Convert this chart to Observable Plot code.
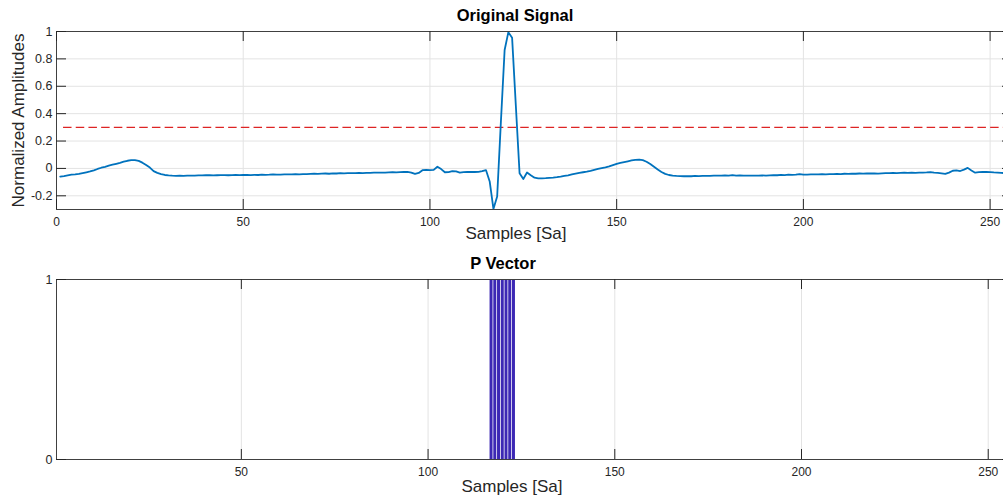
<!DOCTYPE html>
<html><head><meta charset="utf-8">
<script src="https://cdn.jsdelivr.net/npm/d3@7"></script>
<script src="https://cdn.jsdelivr.net/npm/@observablehq/plot@0.6"></script>
<style>
html,body{margin:0;padding:0;background:#fff;overflow:hidden;}
#wrap{width:1003px;height:502px;overflow:hidden;position:relative;background:#fff;}
#wrap svg{display:block;max-width:none;}
</style></head><body><div id="wrap"></div>
<script>
// ---- data ----
const signal = [
-0.060,-0.056,-0.051,-0.046,-0.044,-0.040,-0.034,-0.028,-0.022,-0.014,
-0.004,0.005,0.012,0.020,0.027,0.034,0.041,0.049,0.056,0.060,
0.060,0.055,0.042,0.025,0.006,-0.020,-0.032,-0.041,-0.048,-0.051,
-0.053,-0.054,-0.053,-0.054,-0.052,-0.052,-0.053,-0.051,-0.051,-0.050,
-0.050,-0.051,-0.050,-0.049,-0.049,-0.050,-0.049,-0.048,-0.049,-0.048,
-0.048,-0.049,-0.047,-0.048,-0.046,-0.047,-0.046,-0.043,-0.046,-0.045,
-0.044,-0.043,-0.044,-0.042,-0.043,-0.041,-0.042,-0.040,-0.039,-0.040,
-0.038,-0.037,-0.039,-0.036,-0.037,-0.035,-0.036,-0.035,-0.034,-0.035,
-0.033,-0.034,-0.032,-0.033,-0.031,-0.030,-0.031,-0.030,-0.029,-0.028,
-0.029,-0.027,-0.026,-0.025,-0.030,-0.040,-0.033,-0.013,-0.011,-0.012,
-0.011,0.012,-0.005,-0.028,-0.027,-0.020,-0.022,-0.031,-0.027,-0.026,
-0.025,-0.026,-0.025,-0.020,-0.012,-0.095,-0.296,-0.205,0.340,0.865,
0.995,0.955,0.460,-0.035,-0.077,-0.030,-0.050,-0.068,-0.073,-0.072,
-0.071,-0.069,-0.067,-0.064,-0.060,-0.055,-0.050,-0.044,-0.038,-0.032,
-0.028,-0.024,-0.018,-0.011,-0.004,0.002,0.008,0.015,0.024,0.033,
0.040,0.046,0.052,0.058,0.063,0.065,0.060,0.049,0.032,0.012,
-0.008,-0.026,-0.040,-0.048,-0.053,-0.055,-0.056,-0.057,-0.056,-0.057,
-0.055,-0.056,-0.055,-0.054,-0.055,-0.053,-0.052,-0.053,-0.051,-0.052,
-0.049,-0.053,-0.051,-0.052,-0.053,-0.052,-0.053,-0.052,-0.051,-0.053,
-0.051,-0.049,-0.050,-0.047,-0.049,-0.045,-0.047,-0.046,-0.041,-0.045,
-0.046,-0.044,-0.043,-0.044,-0.042,-0.043,-0.041,-0.042,-0.040,-0.041,
-0.039,-0.040,-0.038,-0.039,-0.037,-0.038,-0.036,-0.037,-0.036,-0.038,
-0.036,-0.035,-0.034,-0.033,-0.034,-0.032,-0.031,-0.032,-0.031,-0.032,
-0.031,-0.030,-0.029,-0.027,-0.031,-0.033,-0.036,-0.040,-0.031,-0.017,
-0.015,-0.019,-0.009,0.004,-0.015,-0.031,-0.027,-0.025,-0.026,-0.027,
-0.029,-0.030,-0.032,-0.035,-0.035,-0.036
];
const threshold = 0.3;
const pIndices = [117,118,119,120,121,122,123];
const xTicksTop = [0,50,100,150,200,250];
const yTicksTop = [-0.2,0,0.2,0.4,0.6,0.8,1];
const xTicksBottom = [50,100,150,200,250];
const yTicksBottom = [0,1];
const titles = ["Original Signal","P Vector"];
const xLabel = "Samples [Sa]";
const yLabel = "Normalized Amplitudes";

// ---- derived tables ----
const samples = signal.map((v,i)=>({sample:i+1, value:v}));
const pData = pIndices.map(s=>({sample:s, value:1}));

const W = 1012, H = 251;
const font = "'Liberation Sans', Arial, Helvetica, sans-serif";
const gridColor = "#e3e3e3", axisColor = "#262626", frameColor = "#404040";
const styleObj = {fontFamily: font, background: "white", maxWidth: "none"};

const topPlot = Plot.plot({
  width: W, height: H, marginTop: 31, marginBottom: 42, marginLeft: 56, marginRight: 0,
  x: {domain: [0, 256], axis: null},
  y: {domain: [-0.3, 1], axis: null},
  style: styleObj,
  marks: [
    Plot.ruleX(xTicksTop, {stroke: gridColor}),
    Plot.ruleY(yTicksTop, {stroke: gridColor}),
    Plot.ruleY([threshold], {x1: samples[0].sample, x2: samples[samples.length-1].sample,
      stroke: "#dd2424", strokeWidth: 1.1, strokeDasharray: "8.5,4.2", strokeDashoffset: 9.4}),
    Plot.line(samples, {x: "sample", y: "value", stroke: "#0072BD", strokeWidth: 1.8}),
    Plot.frame({stroke: frameColor}),
    Plot.ruleX(xTicksTop, {insetTop: 168, stroke: axisColor}),
    Plot.ruleX(xTicksTop, {insetBottom: 168, stroke: axisColor}),
    Plot.ruleY(yTicksTop, {insetRight: 946, stroke: axisColor}),
    Plot.ruleY(yTicksTop, {insetLeft: 946, stroke: axisColor}),
    Plot.text(xTicksTop, {x: d => d, text: d => String(d), frameAnchor: "bottom", lineAnchor: "top",
      dy: 8, fontSize: 12, fill: axisColor}),
    Plot.text(yTicksTop, {y: d => d, text: d => String(d), frameAnchor: "left", textAnchor: "end",
      dx: -4, fontSize: 12.5, fill: axisColor})
  ]
});

const bottomPlot = Plot.plot({
  width: W, height: H, marginTop: 28, marginBottom: 43, marginLeft: 56, marginRight: 0,
  x: {domain: [0.5, 256.5], axis: null},
  y: {domain: [0, 1], axis: null},
  style: styleObj,
  marks: [
    Plot.ruleX(xTicksBottom, {stroke: gridColor}),
    Plot.rect(pData, {x1: d => d.sample - 0.4, x2: d => d.sample + 0.4, y1: 0, y2: "value", fill: "#3c28b4"}),
    Plot.frame({stroke: frameColor}),
    Plot.ruleX(xTicksBottom, {insetTop: 170, stroke: axisColor}),
    Plot.ruleX(xTicksBottom, {insetBottom: 170, stroke: axisColor}),
    Plot.ruleY(yTicksBottom, {insetRight: 946, stroke: axisColor}),
    Plot.ruleY(yTicksBottom, {insetLeft: 946, stroke: axisColor}),
    Plot.text(xTicksBottom, {x: d => d, text: d => String(d), frameAnchor: "bottom", lineAnchor: "top",
      dy: 8, fontSize: 12, fill: axisColor}),
    Plot.text(yTicksBottom, {y: d => d, text: d => String(d), frameAnchor: "left", textAnchor: "end",
      dx: -4, fontSize: 12.5, fill: axisColor})
  ]
});

// ---- titles and axis labels ----
function addText(svg, txt, x, y, opts) {
  const t = d3.select(svg).append("text")
    .attr("x", x).attr("y", y)
    .attr("text-anchor", "middle")
    .attr("font-family", font)
    .attr("font-size", opts.size)
    .attr("font-weight", opts.weight || "normal")
    .attr("fill", opts.fill || axisColor)
    .text(txt);
  if (opts.rotate) t.attr("transform", `rotate(-90 ${x} ${y})`);
}
addText(topPlot, titles[0], 515, 20.5, {size: 16.5, weight: "bold", fill: "#000"});
addText(topPlot, xLabel, 516, 239, {size: 17});
addText(topPlot, yLabel, 24, 120.5, {size: 17, rotate: true});
addText(bottomPlot, titles[1], 503, 17.5, {size: 16.5, weight: "bold", fill: "#000"});
addText(bottomPlot, xLabel, 512, 241, {size: 17});

const wrap = document.getElementById("wrap");
wrap.appendChild(topPlot);
wrap.appendChild(bottomPlot);
</script>
</body></html>
